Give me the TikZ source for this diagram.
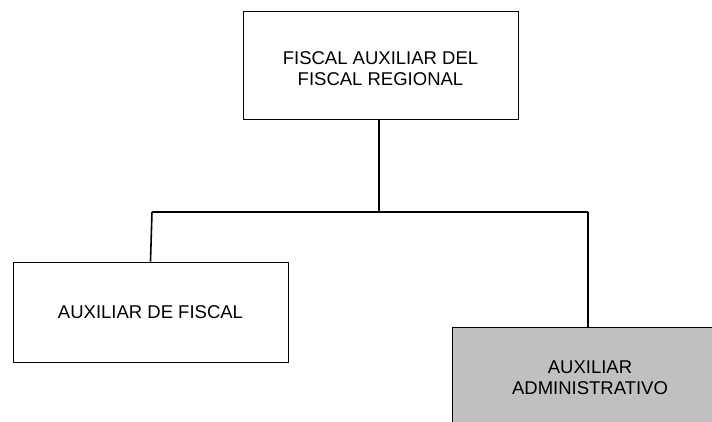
\documentclass[tikz,border=0pt]{standalone}
\usepackage{fontspec}
\setmainfont{Liberation Sans}
\begin{document}
\begin{tikzpicture}[x=1pt,y=-1pt,
  txt/.style={font=\fontsize{18.5}{21.5}\selectfont,align=center},
  box/.style={draw=black,line width=1pt,rectangle,inner sep=0pt,txt},
  conn/.style={draw=black,line width=1.6pt}]
\useasboundingbox (0,0) rectangle (712,421);
\clip (0,0) rectangle (712,421);
\fill[white] (0,0) rectangle (712,421);
\definecolor{boxgray}{HTML}{C0C0C0}
% boxes
\node[box,minimum width=275pt,minimum height=108pt] (top) at (380.5,65) {};
\node[txt,inner sep=0pt] (toptext) at (380.5,68.5) {FISCAL AUXILIAR DEL\\FISCAL REGIONAL};
\node[box,minimum width=275pt,minimum height=100pt] (left) at (150.5,312) {AUXILIAR DE FISCAL};
\node[box,fill=boxgray,minimum width=276pt,minimum height=100pt] (right) at (590,377.5) {AUXILIAR\\ADMINISTRATIVO};
% junction points
\coordinate (jm) at (379,212);
\coordinate (jl) at (152,212);
\coordinate (jr) at (588,212);
% connectors
\draw[conn] (jm |- top.south) -- (jm);
\draw[conn] (jl) -- (jr);
\draw[conn] (jl) -- (left.north);
\draw[conn] (jr) -- (jr |- right.north);
\end{tikzpicture}
\end{document}
